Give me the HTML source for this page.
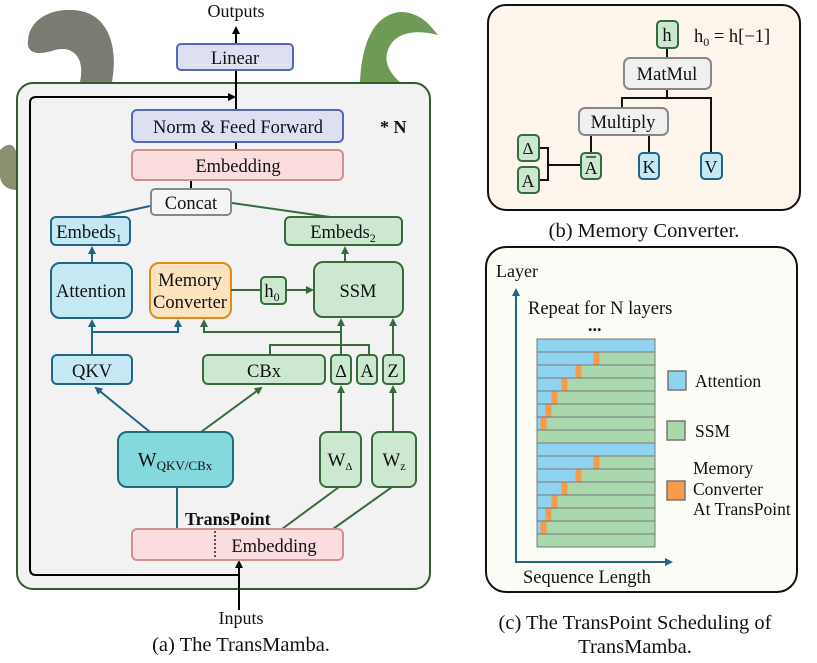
<!DOCTYPE html>
<html><head><meta charset="utf-8"><style>
html,body{margin:0;padding:0;background:#fff;width:817px;height:663px;overflow:hidden}
svg{display:block}
text{font-family:"Liberation Serif",serif;fill:#111}
</style></head><body>
<svg width="817" height="663" viewBox="0 0 817 663" xmlns="http://www.w3.org/2000/svg">
<defs>
<marker id="ak" markerWidth="8" markerHeight="8" refX="6" refY="4" orient="auto" markerUnits="userSpaceOnUse"><path d="M0,0 L8,4 L0,8 z" fill="#000"/></marker>
<marker id="ab" markerWidth="8" markerHeight="8" refX="6" refY="4" orient="auto" markerUnits="userSpaceOnUse"><path d="M0,0 L8,4 L0,8 z" fill="#1f6585"/></marker>
<marker id="ag" markerWidth="8" markerHeight="8" refX="6" refY="4" orient="auto" markerUnits="userSpaceOnUse"><path d="M0,0 L8,4 L0,8 z" fill="#386b3c"/></marker>
</defs>

<!-- decorative snakes (approx) -->
<path d="M28,40 C30,15 60,5 85,12 C110,20 118,50 112,82 L80,82 C85,60 75,45 55,50 C40,55 26,55 28,40z" fill="#7a7c72"/>
<path d="M360,82 C362,40 375,15 400,12 C420,12 430,25 438,35 C420,30 395,30 388,50 C382,65 395,78 400,82z" fill="#6f9a55"/>
<path d="M0,150 C10,140 17,145 17,160 L17,190 C8,190 0,185 0,175z" fill="#8a9070"/>

<!-- Panel a -->
<rect x="17" y="83" width="413" height="506" rx="16" fill="#f2f2f2" stroke="#2e5e2e" stroke-width="2"/>
<text x="236" y="17" font-size="18" text-anchor="middle">Outputs</text>
<line x1="236" y1="44" x2="236" y2="28" stroke="#000" stroke-width="2" marker-end="url(#ak)"/>
<line x1="236" y1="110" x2="236" y2="70" stroke="#000" stroke-width="2"/>
<line x1="236" y1="142" x2="236" y2="150" stroke="#000" stroke-width="2"/>
<line x1="191" y1="180" x2="191" y2="189" stroke="#000" stroke-width="2"/>
<rect x="177" y="44" width="116" height="26" rx="4" fill="#dde0f2" stroke="#5566bb" stroke-width="2"/>
<text x="235" y="64" font-size="18.5" text-anchor="middle">Linear</text>
<path d="M239,575 L36,575 Q30,575 30,569 L30,103 Q30,97 36,97 L234,97" fill="none" stroke="#000" stroke-width="2" marker-end="url(#ak)"/>
<line x1="239" y1="610" x2="239" y2="562" stroke="#000" stroke-width="2" marker-end="url(#ak)"/>
<rect x="132" y="110" width="211" height="32" rx="5" fill="#dde0f2" stroke="#5566bb" stroke-width="2"/>
<text x="238" y="133" font-size="18.5" text-anchor="middle">Norm &amp; Feed Forward</text>
<text x="380" y="133" font-size="18" font-weight="bold">* N</text>
<rect x="132" y="150" width="211" height="30" rx="5" fill="#fbdde0" stroke="#d09090" stroke-width="2"/>
<text x="238" y="172" font-size="18.5" text-anchor="middle">Embedding</text>
<rect x="151" y="189" width="80" height="26" rx="4" fill="#f5f5f5" stroke="#888" stroke-width="2"/>
<text x="191" y="209" font-size="18.5" text-anchor="middle">Concat</text>
<line x1="150" y1="206" x2="100" y2="217" stroke="#1f6585" stroke-width="2"/>
<line x1="232" y1="203" x2="330" y2="217" stroke="#386b3c" stroke-width="2"/>
<rect x="51" y="217" width="79" height="28" rx="5" fill="#c5e8f5" stroke="#1f6585" stroke-width="2"/>
<text x="89" y="238" font-size="18.5" text-anchor="middle">Embeds<tspan font-size="12" dy="4">1</tspan></text>
<rect x="285" y="217" width="117" height="28" rx="5" fill="#cde8d0" stroke="#386b3c" stroke-width="2"/>
<text x="343" y="238" font-size="18.5" text-anchor="middle">Embeds<tspan font-size="12" dy="4">2</tspan></text>
<line x1="92" y1="263" x2="92" y2="248" stroke="#1f6585" stroke-width="2" marker-end="url(#ab)"/>
<line x1="345" y1="262" x2="345" y2="248" stroke="#386b3c" stroke-width="2" marker-end="url(#ag)"/>
<rect x="51" y="263" width="81" height="55" rx="9" fill="#c5e8f5" stroke="#1f6585" stroke-width="2"/>
<text x="91" y="297" font-size="18.5" text-anchor="middle">Attention</text>
<rect x="150" y="263" width="81" height="55" rx="9" fill="#fde3bf" stroke="#e08a1a" stroke-width="2"/>
<text x="190" y="286" font-size="18.5" text-anchor="middle">Memory</text>
<text x="190" y="308" font-size="18.5" text-anchor="middle">Converter</text>
<line x1="231" y1="290" x2="261" y2="290" stroke="#386b3c" stroke-width="2"/>
<rect x="261" y="277" width="25" height="27" rx="4" fill="#cde8d0" stroke="#386b3c" stroke-width="2"/>
<text x="272" y="297" font-size="18.5" text-anchor="middle">h<tspan font-size="12" dy="4">0</tspan></text>
<line x1="286" y1="290" x2="312" y2="290" stroke="#386b3c" stroke-width="2" marker-end="url(#ag)"/>
<rect x="314" y="262" width="89" height="55" rx="9" fill="#cde8d0" stroke="#386b3c" stroke-width="2"/>
<text x="358" y="297" font-size="18.5" text-anchor="middle">SSM</text>
<!-- mid connectors -->
<line x1="92" y1="355" x2="92" y2="321" stroke="#1f6585" stroke-width="2" marker-end="url(#ab)"/>
<polyline points="92,332 178,332 178,321" fill="none" stroke="#1f6585" stroke-width="2" marker-end="url(#ab)"/>
<polyline points="341,332 204,332 204,321" fill="none" stroke="#386b3c" stroke-width="2" marker-end="url(#ag)"/>
<line x1="341" y1="355" x2="341" y2="320" stroke="#386b3c" stroke-width="2" marker-end="url(#ag)"/>
<polyline points="270,355 270,345 369,345 369,355" fill="none" stroke="#386b3c" stroke-width="2"/>
<line x1="393" y1="355" x2="393" y2="320" stroke="#386b3c" stroke-width="2" marker-end="url(#ag)"/>
<rect x="52" y="355" width="80" height="29" rx="5" fill="#c5e8f5" stroke="#1f6585" stroke-width="2"/>
<text x="92" y="377" font-size="18.5" text-anchor="middle">QKV</text>
<rect x="203" y="355" width="122" height="29" rx="5" fill="#cde8d0" stroke="#386b3c" stroke-width="2"/>
<text x="264" y="377" font-size="18.5" text-anchor="middle">CBx</text>
<rect x="331" y="355" width="20" height="29" rx="4" fill="#cde8d0" stroke="#386b3c" stroke-width="2"/>
<text x="341" y="377" font-size="18" text-anchor="middle">Δ</text>
<rect x="357" y="355" width="20" height="29" rx="4" fill="#cde8d0" stroke="#386b3c" stroke-width="2"/>
<text x="367" y="377" font-size="18.5" text-anchor="middle">A</text>
<rect x="383" y="355" width="21" height="29" rx="4" fill="#cde8d0" stroke="#386b3c" stroke-width="2"/>
<text x="393" y="377" font-size="18.5" text-anchor="middle">Z</text>
<!-- lower connectors -->
<line x1="150" y1="432" x2="96" y2="388" stroke="#1f6585" stroke-width="2" marker-end="url(#ab)"/>
<line x1="201" y1="432" x2="261" y2="388" stroke="#386b3c" stroke-width="2" marker-end="url(#ag)"/>
<line x1="341" y1="432" x2="341" y2="387" stroke="#386b3c" stroke-width="2" marker-end="url(#ag)"/>
<line x1="393" y1="432" x2="393" y2="387" stroke="#386b3c" stroke-width="2" marker-end="url(#ag)"/>
<line x1="177" y1="487" x2="177" y2="529" stroke="#1f6b7a" stroke-width="2"/>
<line x1="339" y1="487" x2="282" y2="529" stroke="#386b3c" stroke-width="2"/>
<line x1="392" y1="487" x2="333" y2="529" stroke="#386b3c" stroke-width="2"/>
<rect x="118" y="432" width="115" height="55" rx="9" fill="#85d8dc" stroke="#1f6b7a" stroke-width="2"/>
<text x="175" y="466" font-size="20" text-anchor="middle">W<tspan font-size="13" dy="4">QKV/CBx</tspan></text>
<rect x="320" y="432" width="41" height="55" rx="7" fill="#cde8d0" stroke="#386b3c" stroke-width="2"/>
<text x="340" y="466" font-size="19" text-anchor="middle">W<tspan font-size="11" dy="4">Δ</tspan></text>
<rect x="372" y="432" width="44" height="55" rx="7" fill="#cde8d0" stroke="#386b3c" stroke-width="2"/>
<text x="394" y="466" font-size="19" text-anchor="middle">W<tspan font-size="12" dy="4">z</tspan></text>
<text x="185" y="525" font-size="18" font-weight="bold">TransPoint</text>
<rect x="132" y="529" width="211" height="31" rx="5" fill="#fbdde0" stroke="#d09090" stroke-width="2"/>
<line x1="215" y1="531" x2="215" y2="559" stroke="#222" stroke-width="1.5" stroke-dasharray="2,2"/>
<text x="274" y="552" font-size="18.5" text-anchor="middle">Embedding</text>
<text x="241" y="624" font-size="18" text-anchor="middle">Inputs</text>
<text x="241" y="651" font-size="20.5" text-anchor="middle">(a) The TransMamba.</text>

<!-- Panel b -->
<rect x="488" y="5" width="312" height="205" rx="18" fill="#fdf5ec" stroke="#111" stroke-width="2"/>
<g stroke="#111" stroke-width="2" fill="none">
<line x1="667" y1="48" x2="667" y2="58"/>
<polyline points="667,89 667,98"/>
<polyline points="622,108 622,98 711,98 711,153"/>
<line x1="591" y1="135" x2="591" y2="153"/>
<line x1="649" y1="135" x2="649" y2="153"/>
<polyline points="539,148 548,148 548,180 539,180"/>
<line x1="548" y1="165" x2="581" y2="165"/>
</g>
<rect x="657" y="21" width="21" height="27" rx="4" fill="#cde8d0" stroke="#386b3c" stroke-width="2"/>
<text x="667" y="41" font-size="18.5" text-anchor="middle">h</text>
<text x="694" y="42" font-size="18.5">h<tspan font-size="12" dy="4">0</tspan><tspan dy="-4"> = h[−1]</tspan></text>
<rect x="624" y="58" width="87" height="31" rx="6" fill="#f0f0f0" stroke="#888" stroke-width="2"/>
<text x="667" y="80" font-size="18.5" text-anchor="middle">MatMul</text>
<rect x="579" y="108" width="89" height="27" rx="6" fill="#f0f0f0" stroke="#888" stroke-width="2"/>
<text x="623" y="128" font-size="18.5" text-anchor="middle">Multiply</text>
<rect x="518" y="135" width="21" height="26" rx="4" fill="#cde8d0" stroke="#386b3c" stroke-width="2"/>
<text x="528" y="154" font-size="17" text-anchor="middle">Δ</text>
<rect x="518" y="167" width="21" height="26" rx="4" fill="#cde8d0" stroke="#386b3c" stroke-width="2"/>
<text x="528" y="187" font-size="18" text-anchor="middle">A</text>
<rect x="581" y="153" width="20" height="26" rx="4" fill="#cde8d0" stroke="#386b3c" stroke-width="2"/>
<text x="591" y="174" font-size="18" text-anchor="middle">A</text>
<line x1="586" y1="157" x2="596" y2="157" stroke="#111" stroke-width="1.2"/>
<rect x="639" y="153" width="20" height="26" rx="4" fill="#c5e8f5" stroke="#1f6585" stroke-width="2"/>
<text x="649" y="173" font-size="18" text-anchor="middle">K</text>
<rect x="701" y="153" width="21" height="26" rx="4" fill="#c5e8f5" stroke="#1f6585" stroke-width="2"/>
<text x="711" y="173" font-size="18" text-anchor="middle">V</text>
<text x="644" y="237" font-size="20.5" text-anchor="middle">(b) Memory Converter.</text>

<!-- Panel c -->
<rect x="486" y="247" width="311" height="345" rx="20" fill="#fcfcf7" stroke="#111" stroke-width="2"/>
<text x="496" y="277" font-size="18">Layer</text>
<line x1="516" y1="563" x2="516" y2="290" stroke="#1f6585" stroke-width="2" marker-end="url(#ab)"/>
<line x1="515" y1="562" x2="671" y2="562" stroke="#1f6585" stroke-width="2" marker-end="url(#ab)"/>
<text x="523" y="583" font-size="18.5">Sequence Length</text>
<text x="528" y="314" font-size="18.5">Repeat for N layers</text>
<text x="588" y="331" font-size="18" font-weight="bold">...</text>
<g id="rows" stroke="#777" stroke-width="1">
<rect x="537" y="339" width="118" height="13" fill="#8fd3f0"/>
<rect x="537" y="352" width="118" height="13" fill="#a9d8ac"/><rect x="537.5" y="352.5" width="56" height="12" fill="#8fd3f0" stroke="none"/><rect x="593.5" y="352.5" width="6" height="12" fill="#f79a4a" stroke="none"/>
<rect x="537" y="365" width="118" height="13" fill="#a9d8ac"/><rect x="537.5" y="365.5" width="38" height="12" fill="#8fd3f0" stroke="none"/><rect x="575.5" y="365.5" width="6" height="12" fill="#f79a4a" stroke="none"/>
<rect x="537" y="378" width="118" height="13" fill="#a9d8ac"/><rect x="537.5" y="378.5" width="24" height="12" fill="#8fd3f0" stroke="none"/><rect x="561.5" y="378.5" width="6" height="12" fill="#f79a4a" stroke="none"/>
<rect x="537" y="391" width="118" height="13" fill="#a9d8ac"/><rect x="537.5" y="391.5" width="14" height="12" fill="#8fd3f0" stroke="none"/><rect x="551.5" y="391.5" width="6" height="12" fill="#f79a4a" stroke="none"/>
<rect x="537" y="404" width="118" height="13" fill="#a9d8ac"/><rect x="537.5" y="404.5" width="8" height="12" fill="#8fd3f0" stroke="none"/><rect x="545.5" y="404.5" width="6" height="12" fill="#f79a4a" stroke="none"/>
<rect x="537" y="417" width="118" height="13" fill="#a9d8ac"/><rect x="537.5" y="417.5" width="3" height="12" fill="#8fd3f0" stroke="none"/><rect x="540.5" y="417.5" width="6" height="12" fill="#f79a4a" stroke="none"/>
<rect x="537" y="430" width="118" height="13" fill="#a9d8ac"/>
<rect x="537" y="443" width="118" height="13" fill="#8fd3f0"/>
<rect x="537" y="456" width="118" height="13" fill="#a9d8ac"/><rect x="537.5" y="456.5" width="56" height="12" fill="#8fd3f0" stroke="none"/><rect x="593.5" y="456.5" width="6" height="12" fill="#f79a4a" stroke="none"/>
<rect x="537" y="469" width="118" height="13" fill="#a9d8ac"/><rect x="537.5" y="469.5" width="38" height="12" fill="#8fd3f0" stroke="none"/><rect x="575.5" y="469.5" width="6" height="12" fill="#f79a4a" stroke="none"/>
<rect x="537" y="482" width="118" height="13" fill="#a9d8ac"/><rect x="537.5" y="482.5" width="24" height="12" fill="#8fd3f0" stroke="none"/><rect x="561.5" y="482.5" width="6" height="12" fill="#f79a4a" stroke="none"/>
<rect x="537" y="495" width="118" height="13" fill="#a9d8ac"/><rect x="537.5" y="495.5" width="14" height="12" fill="#8fd3f0" stroke="none"/><rect x="551.5" y="495.5" width="6" height="12" fill="#f79a4a" stroke="none"/>
<rect x="537" y="508" width="118" height="13" fill="#a9d8ac"/><rect x="537.5" y="508.5" width="8" height="12" fill="#8fd3f0" stroke="none"/><rect x="545.5" y="508.5" width="6" height="12" fill="#f79a4a" stroke="none"/>
<rect x="537" y="521" width="118" height="13" fill="#a9d8ac"/><rect x="537.5" y="521.5" width="3" height="12" fill="#8fd3f0" stroke="none"/><rect x="540.5" y="521.5" width="6" height="12" fill="#f79a4a" stroke="none"/>
<rect x="537" y="534" width="118" height="13" fill="#a9d8ac"/>
</g>
<rect x="668" y="371" width="18" height="19" fill="#8fd3f0" stroke="#777" stroke-width="1.5"/>
<text x="695" y="387" font-size="17.5">Attention</text>
<rect x="667" y="421" width="18" height="19" fill="#a9d8ac" stroke="#777" stroke-width="1.5"/>
<text x="695" y="437" font-size="17.5">SSM</text>
<rect x="667" y="481" width="18" height="19" fill="#f79a4a" stroke="#777" stroke-width="1.5"/>
<text x="693" y="474" font-size="17.5">Memory</text>
<text x="693" y="495" font-size="17.5">Converter</text>
<text x="693" y="515" font-size="17.5">At TransPoint</text>
<text x="635" y="629" font-size="20.5" text-anchor="middle">(c) The TransPoint Scheduling of</text>
<text x="635" y="653" font-size="20.5" text-anchor="middle">TransMamba.</text>
</svg>
</body></html>
